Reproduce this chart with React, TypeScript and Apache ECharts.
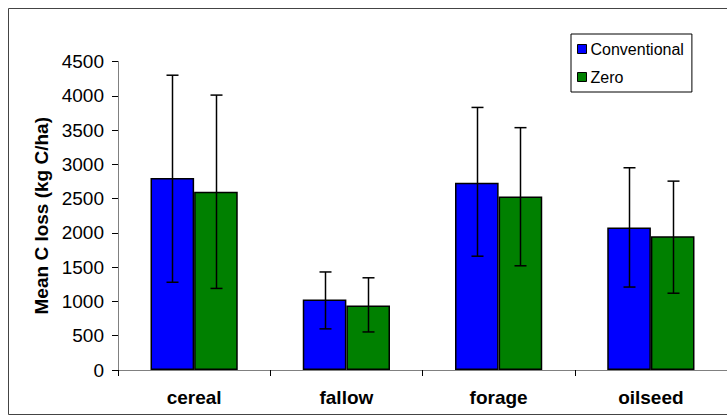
import React, { useEffect, useRef } from "react";
import * as echarts from "echarts";

const categories = ["cereal", "fallow", "forage", "oilseed"];
const conventional = [2800, 1030, 2730, 2080];
const conventionalLow = [1280, 600, 1660, 1210];
const conventionalHigh = [4300, 1430, 3830, 2950];
const zero = [2600, 940, 2530, 1950];
const zeroLow = [1190, 555, 1520, 1120];
const zeroHigh = [4010, 1345, 3535, 2755];
const yTicks = { min: 0, max: 4500, interval: 500 };

const FONT = "'Liberation Sans', Arial, sans-serif";
const CAT_GAP = 0.427;

function errorSeries(name: string, low: number[], high: number[], side: number) {
  return {
    type: "custom",
    name,
    z: 10,
    data: categories.map((_, i) => [i, low[i], high[i]]),
    encode: { x: 0, y: [1, 2] },
    renderItem: (params: any, api: any) => {
      const idx = api.value(0);
      const lowPt = api.coord([idx, api.value(1)]);
      const highPt = api.coord([idx, api.value(2)]);
      const bandW = api.size([1, 0])[0];
      const barW = (bandW * (1 - CAT_GAP)) / 2;
      const x = Math.round(lowPt[0] + (side * barW) / 2) + 0.5;
      const cap = 6;
      const style = { stroke: "#000", lineWidth: 1.5 };
      return {
        type: "group",
        children: [
          { type: "line", shape: { x1: x, y1: highPt[1], x2: x, y2: lowPt[1] }, style },
          { type: "line", shape: { x1: x - cap, y1: highPt[1], x2: x + cap, y2: highPt[1] }, style },
          { type: "line", shape: { x1: x - cap, y1: lowPt[1], x2: x + cap, y2: lowPt[1] }, style },
        ],
      };
    },
  };
}

export default function App() {
  const ref = useRef<HTMLDivElement>(null);
  useEffect(() => {
    if (!ref.current) return;
    const chart = echarts.init(ref.current, undefined, { renderer: "svg" });
    chart.setOption({
      animation: false,
      backgroundColor: "#fff",
      textStyle: { fontFamily: FONT },
      graphic: [
        {
          type: "rect",
          shape: { x: 8.5, y: 8.5, width: 740, height: 406 },
          style: { fill: "none", stroke: "#444", lineWidth: 1 },
          z: -1,
        },
      ],
      grid: { left: 118, top: 61.5, bottom: 46, right: -13, containLabel: false },
      legend: {
        data: ["Conventional", "Zero"],
        orient: "vertical",
        left: 571,
        top: 34,
        padding: [7, 8, 7, 6],
        itemGap: 12,
        itemWidth: 9,
        itemHeight: 9,
        icon: "rect",
        borderColor: "#000",
        borderWidth: 1,
        backgroundColor: "#fff",
        textStyle: { fontSize: 16, color: "#000", fontFamily: FONT, padding: [0, 0, 0, -1] },
        itemStyle: { borderColor: "#000", borderWidth: 1 },
      },
      xAxis: {
        type: "category",
        data: categories,
        axisLine: { lineStyle: { color: "#808080", width: 1 } },
        axisTick: { show: true, length: 6, lineStyle: { color: "#000" } },
        axisLabel: { fontSize: 19, fontWeight: "bold", color: "#000", margin: 18, fontFamily: FONT },
      },
      yAxis: {
        type: "value",
        min: yTicks.min,
        max: yTicks.max,
        interval: yTicks.interval,
        name: "Mean C loss (kg C/ha)",
        nameLocation: "middle",
        nameRotate: 90,
        nameGap: 67,
        nameTextStyle: { fontSize: 19, fontWeight: "bold", color: "#000", fontFamily: FONT },
        axisLine: { show: true, lineStyle: { color: "#808080", width: 1 } },
        axisTick: { show: true, length: 6, lineStyle: { color: "#000" } },
        axisLabel: {
          fontSize: 19,
          color: "#000",
          margin: 14,
          fontFamily: FONT,
          formatter: (v: number) => String(v),
        },
        splitLine: { show: false },
      },
      series: [
        {
          name: "Conventional",
          type: "bar",
          data: conventional,
          barGap: "0%",
          barCategoryGap: CAT_GAP * 100 + "%",
          itemStyle: { color: "#0000FF", borderColor: "#000", borderWidth: 1.5 },
        },
        {
          name: "Zero",
          type: "bar",
          data: zero,
          barGap: "0%",
          barCategoryGap: CAT_GAP * 100 + "%",
          itemStyle: { color: "#008000", borderColor: "#000", borderWidth: 1.5 },
        },
        errorSeries("errConventional", conventionalLow, conventionalHigh, -1),
        errorSeries("errZero", zeroLow, zeroHigh, 1),
      ],
    });
    return () => chart.dispose();
  }, []);
  return (
    <div
      ref={ref}
      style={{ position: "fixed", left: 0, top: 0, width: 727, height: 416 }}
    />
  );
}
